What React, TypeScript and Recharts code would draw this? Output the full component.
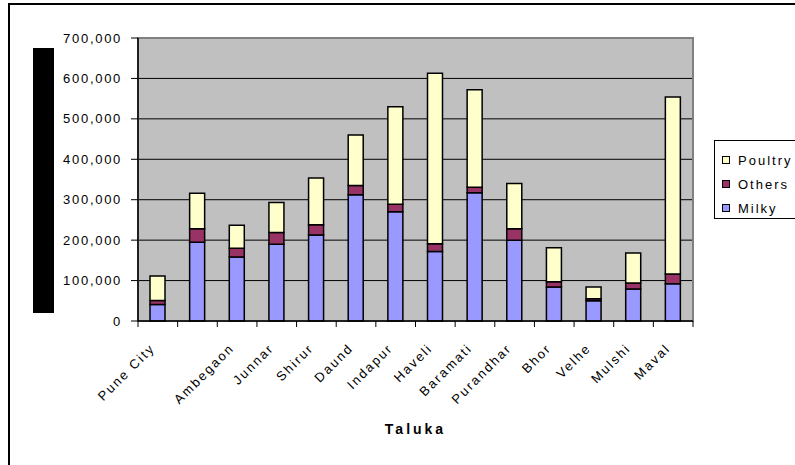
import React from "react";
import {
  BarChart,
  Bar,
  XAxis,
  YAxis,
  CartesianGrid,
  ReferenceArea,
} from "recharts";

// talukas (second label is not shown in the source picture)
const talukas = [
  "Pune City",
  "",
  "Ambegaon",
  "Junnar",
  "Shirur",
  "Daund",
  "Indapur",
  "Haveli",
  "Baramati",
  "Purandhar",
  "Bhor",
  "Velhe",
  "Mulshi",
  "Maval",
];
const milky = [41000, 195000, 158000, 190000, 213000, 312000, 270000, 172000, 317000, 200000, 84000, 50000, 79000, 92000];
const others = [10000, 33000, 22000, 29000, 25000, 23000, 19000, 19000, 14000, 28000, 13000, 5000, 15000, 24000];
const poultry = [60000, 88000, 57000, 74000, 116000, 125000, 241000, 422000, 241000, 112000, 84000, 29000, 74000, 438000];
const yTicks = [0, 100000, 200000, 300000, 400000, 500000, 600000, 700000];

const data = talukas.map((t, i) => ({
  taluka: t,
  Milky: milky[i],
  Others: others[i],
  Poultry: poultry[i],
}));

const FONT = "'Liberation Sans', Arial, sans-serif";

const XTick = (props: any) => {
  const { x, y, payload, index, width, visibleTicksCount } = props;
  const count = visibleTicksCount || talukas.length;
  const step = width ? width / count : 555 / talukas.length;
  const left = x - step / 2;
  return (
    <g>
      <line x1={left} y1={y} x2={left} y2={y + 6} stroke="#000" />
      {index === count - 1 && (
        <line x1={x + step / 2} y1={y} x2={x + step / 2} y2={y + 6} stroke="#000" />
      )}
      <text
        x={x - 2}
        y={y + 28}
        textAnchor="end"
        transform={`rotate(-45 ${x - 2} ${y + 28})`}
        fontSize={13}
        letterSpacing={2}
        fontFamily={FONT}
        fill="#000"
      >
        {payload.value}
      </text>
    </g>
  );
};

const legendItems = [
  { name: "Poultry", color: "#FFFFCC" },
  { name: "Others", color: "#993366" },
  { name: "Milky", color: "#9999FF" },
];

const LegendBox = () => (
  <div
    style={{
      position: "absolute",
      left: 714,
      top: 140,
      border: "1px solid #000",
      borderRight: "none",
      width: 81,
      height: 79,
      boxSizing: "border-box",
      paddingTop: 7,
      fontFamily: FONT,
      fontSize: 13,
      letterSpacing: 2,
      background: "#fff",
    }}
  >
    {legendItems.map((it) => (
      <div key={it.name} style={{ display: "flex", alignItems: "center", height: 24 }}>
        <span
          style={{
            display: "inline-block",
            width: 6,
            height: 6,
            border: "1px solid #000",
            background: it.color,
            marginLeft: 7,
            marginRight: 8,
          }}
        />
        <span>{it.name}</span>
      </div>
    ))}
  </div>
);

export default function App() {
  return (
    <div style={{ position: "absolute", left: 0, top: 0, width: 795, height: 465, background: "#fff", overflow: "hidden" }}>
      {/* chart frame: only top and left edges are visible */}
      <div style={{ position: "absolute", left: 8, top: 3, width: 787, height: 2, background: "#000" }} />
      <div style={{ position: "absolute", left: 8, top: 3, width: 2, height: 462, background: "#000" }} />
      {/* y axis title block */}
      <div style={{ position: "absolute", left: 33, top: 48, width: 21, height: 265, background: "#000" }} />
      <BarChart
        width={795}
        height={465}
        data={data}
        margin={{ top: 38, right: 102, bottom: 0, left: 0 }}
        barSize={15}
        style={{ position: "absolute", left: 0, top: 0 }}
      >
        <CartesianGrid vertical={false} stroke="#000" fill="#C0C0C0" fillOpacity={1} />
        <ReferenceArea
          x1="Pune City"
          x2="Maval"
          y1={0}
          y2={700000}
          fill="none"
          stroke="#808080"
          strokeWidth={2}
          ifOverflow="visible"
        />
        <XAxis
          dataKey="taluka"
          height={144}
          tickLine={false}
          tickSize={0}
          tickMargin={0}
          interval={0}
          axisLine={{ stroke: "#000", strokeWidth: 1.5 }}
          tick={<XTick />}
          label={{
            value: "Taluka",
            position: "insideBottom",
            offset: 31,
            fontSize: 14,
            fontWeight: 700,
            letterSpacing: 3,
            fontFamily: FONT,
            fill: "#000",
          }}
        />
        <YAxis
          width={138}
          domain={[0, 700000]}
          ticks={yTicks}
          interval={0}
          tickSize={7}
          tickMargin={9}
          axisLine={{ stroke: "#000", strokeWidth: 1.5 }}
          tickLine={{ stroke: "#000" }}
          tick={{ fontSize: 13, fill: "#000", fontFamily: FONT, letterSpacing: 1.7 }}
          tickFormatter={(v: number) => v.toLocaleString("en-US")}
        />
        <Bar dataKey="Milky" stackId="a" fill="#9999FF" stroke="#000" strokeWidth={1.5} isAnimationActive={false} />
        <Bar dataKey="Others" stackId="a" fill="#993366" stroke="#000" strokeWidth={1.5} isAnimationActive={false} />
        <Bar dataKey="Poultry" stackId="a" fill="#FFFFCC" stroke="#000" strokeWidth={1.5} isAnimationActive={false} />
      </BarChart>
      <LegendBox />
    </div>
  );
}
